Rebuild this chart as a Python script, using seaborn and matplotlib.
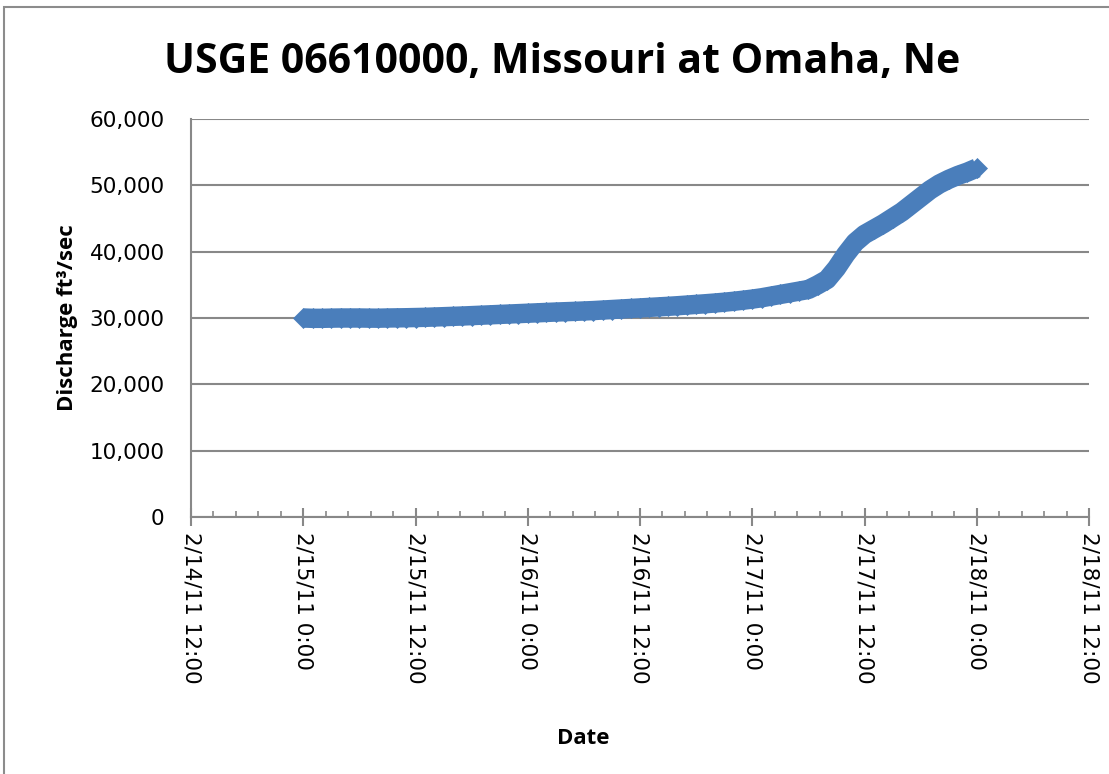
"""
Caudal del río Missouri en Omaha (USGS 06610000), febrero 2011
"""

import matplotlib
matplotlib.use('Agg')
import matplotlib.pyplot as plt
import matplotlib.dates as mdates
import matplotlib.ticker as mticker
from matplotlib.patches import Rectangle
import seaborn as sns
import numpy as np
import pandas as pd

# Datos: valores horarios desde 2/15/11 0:00 hasta 2/18/11 0:00
start_time = '2011-02-15 00:00'
discharge = [
    30000, 29950, 29950, 29980, 30000, 30000, 30000, 29980, 29970, 30000, 30020, 30040, 30070,
    30100, 30150, 30200, 30250, 30300, 30360, 30420, 30480, 30540, 30600, 30660, 30720,
    30780, 30840, 30900, 30950, 31000, 31060, 31120, 31200, 31280, 31360, 31440, 31520,
    31600, 31680, 31760, 31850, 31950, 32050, 32150, 32260, 32380, 32520, 32680, 32850,
    33050, 33300, 33550, 33800, 34050, 34300, 35000, 35800, 37500, 39600, 41400, 42600,
    43400, 44200, 45100, 46000, 47100, 48200, 49300, 50200, 50900, 51500, 52000, 52600,
]
y_ticks = [0, 10000, 20000, 30000, 40000, 50000, 60000]
x_start = '2011-02-14 12:00'
x_end = '2011-02-18 12:00'

title = 'USGE 06610000, Missouri at Omaha, Ne'
x_label = 'Date'
y_label = 'Discharge ft\u00b3/sec'

df = pd.DataFrame({
    'Date': pd.date_range(start_time, periods=len(discharge), freq='h'),
    'Discharge': discharge,
})

sns.set_style('white')
plt.rcParams['font.family'] = ['DejaVu Sans']
plt.rcParams['text.color'] = 'black'

blue = '#4A7EBB'
gray = '#888888'

fig = plt.figure(figsize=(11.09, 7.74), dpi=100)
ax = fig.add_axes([191 / 1109, 1 - 517 / 774, (1089 - 191) / 1109, (517 - 119) / 774])

# Marco del gráfico (estilo Excel)
fig.patches.append(Rectangle((4 / 1109, -0.1), 1.2, 1.1 - 7 / 774, transform=fig.transFigure,
                             fill=False, edgecolor='#8c8c8c', linewidth=1.5, zorder=0))

sns.lineplot(data=df, x='Date', y='Discharge', ax=ax, color=blue, linewidth=14,
             marker='D', markersize=10.5, markeredgecolor=blue, markeredgewidth=0.5,
             solid_capstyle='butt', solid_joinstyle='round', zorder=3)

ax.set_xlim(pd.Timestamp(x_start), pd.Timestamp(x_end))
ax.set_ylim(y_ticks[0], y_ticks[-1])
ax.set_yticks(y_ticks)
ax.yaxis.set_major_formatter(mticker.FuncFormatter(lambda v, p: f'{int(v):,}'))

ax.xaxis.set_major_locator(mticker.MultipleLocator(0.5))
ax.xaxis.set_minor_locator(mticker.MultipleLocator(0.1))


def fmt_date(v, pos):
    d = mdates.num2date(v)
    return f'{d.month}/{d.day}/{d.strftime("%y")} {d.hour}:{d.minute:02d}'


ax.xaxis.set_major_formatter(mticker.FuncFormatter(fmt_date))

ax.grid(axis='y', color=gray, linewidth=1.5)
ax.grid(axis='x', visible=False)
ax.set_axisbelow(True)

for side in ['top', 'right']:
    ax.spines[side].set_visible(False)
for side in ['left', 'bottom']:
    ax.spines[side].set_color(gray)
    ax.spines[side].set_linewidth(1.5)

ax.tick_params(axis='y', length=0, pad=19, labelsize=15.5, labelcolor='black')
ax.tick_params(axis='x', which='major', direction='inout', length=13, width=1.5,
               color=gray, pad=4, labelsize=15.5, labelcolor='black',
               labelrotation=270, bottom=True)
ax.tick_params(axis='x', which='minor', direction='in', length=4, width=1.2,
               color=gray, bottom=True)
for lbl in ax.get_xticklabels():
    lbl.set_verticalalignment('top')
    lbl.set_horizontalalignment('center')

ax.set_xlabel('')
ax.set_ylabel('')
fig.text(583 / 1109, 1 - 738 / 774, x_label, family='Open Sans', fontweight='bold',
         fontsize=16, ha='center', va='center', color='black')
fig.text(68 / 1109, 1 - 318 / 774, y_label, family='Open Sans', fontweight='bold',
         fontsize=16, ha='center', va='center', rotation=90, color='black')
fig.text(562 / 1109, 1 - 63 / 774, title, family='Open Sans', fontweight='bold',
         fontsize=29.5, ha='center', va='center', color='black')

fig.savefig('out.png', dpi=100)
